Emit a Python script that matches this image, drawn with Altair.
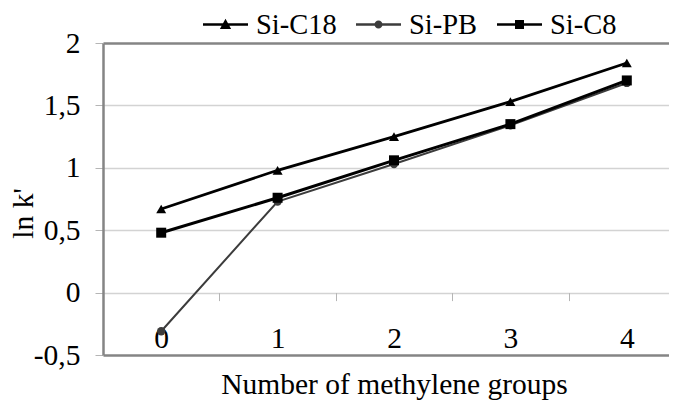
import altair as alt
import pandas as pd

# ---- data ----
x_vals = [0, 1, 2, 3, 4]
series_names = ["Si-C18", "Si-PB", "Si-C8"]
c18_vals = [0.67, 0.98, 1.25, 1.53, 1.84]
pb_vals = [-0.31, 0.73, 1.03, 1.34, 1.68]
c8_vals = [0.48, 0.76, 1.06, 1.35, 1.70]
y_ticks = [-0.5, 0, 0.5, 1, 1.5, 2]

rows = []
for name, vals in zip(series_names, [c18_vals, pb_vals, c8_vals]):
    for xv, v in zip(x_vals, vals):
        rows.append({"n": xv, "lnk": v, "series": name})
df = pd.DataFrame(rows)

FONT = "Liberation Serif"
W, H = 566, 312
RANGE_W = 582

x_enc = alt.X(
    "n:O",
    bandPosition=0.5,
    scale=alt.Scale(type="band", paddingInner=0, paddingOuter=0, range=[0, RANGE_W]),
    axis=alt.Axis(
        title="Number of methylene groups",
        tickBand="extent",
        domain=False,
        grid=False,
        ticks=True,
        tickColor="#b5b5b5",
        tickSize=8,
        tickWidth=1,
        offset=-62.4,
        labelAngle=0,
        labelFont=FONT,
        labelFontSize=29.5,
        labelColor="black",
        labelBaseline="alphabetic",
        labelPadding=47,
        titleFont=FONT,
        titleFontSize=29.5,
        titleFontWeight="normal",
        titleColor="black",
        titleX=291,
        titleY=101,
        titleBaseline="alphabetic",
        titleAlign="center",
    ),
)

y_enc = alt.Y(
    "lnk:Q",
    scale=alt.Scale(domain=[-0.5, 2], nice=False, zero=False),
    axis=alt.Axis(
        values=y_ticks,
        labelExpr="replace(toString(datum.value), '.', ',')",
        title="ln k'",
        grid=True,
        gridColor={"condition": {"test": "datum.value === 2 || datum.value === -0.5", "value": "#858585"}, "value": "#d3d3d3"},
        gridWidth={"condition": {"test": "datum.value === 2 || datum.value === -0.5", "value": 2.5}, "value": 1.5},
        domainColor="#858585",
        domainWidth=2.5,
        tickColor="#b5b5b5",
        tickSize=8,
        tickWidth=1,
        labelFont=FONT,
        labelFontSize=29.5,
        labelColor="black",
        labelPadding=15,
        titleFont=FONT,
        titleFontSize=29.5,
        titleFontWeight="normal",
        titleColor="black",
        titleAngle=270,
        titleX=-71,
        titleY=170,
        titleBaseline="alphabetic",
        titleAlign="center",
    ),
)


def series_layer(name, color, width, shape, size):
    base = alt.Chart(df).transform_filter(alt.datum.series == name)
    line = base.mark_line(color=color, strokeWidth=width).encode(x=x_enc, y=y_enc)
    pts = base.mark_point(filled=True, shape=shape, size=size, color=color, opacity=1).encode(x=x_enc, y=y_enc)
    return [line, pts]


line_path = "M-1,-0.06L1,-0.06L1,0.06L-1,0.06Z"
legend_paths = [
    line_path + "M0,-0.26L0.25,0.2L-0.25,0.2Z",
    line_path + "M0.18,0A0.18,0.18,0,1,1,-0.18,0A0.18,0.18,0,1,1,0.18,0Z",
    line_path + "M-0.2,-0.2L0.2,-0.2L0.2,0.2L-0.2,0.2Z",
]
legend_colors = ["#000000", "#3c3c3c", "#000000"]

leg = alt.Legend(
    title=None,
    orient="none",
    legendX=100,
    legendY=-41,
    direction="horizontal",
    symbolSize=2025,
    symbolStrokeWidth=0,
    symbolOpacity=1,
    labelFont=FONT,
    labelFontSize=28.5,
    labelColor="black",
    labelOffset=8,
    columnPadding=19,
)

legend_layer = alt.Chart(df).mark_point(filled=True, opacity=0).encode(
    x=x_enc,
    y=y_enc,
    shape=alt.Shape("series:N", scale=alt.Scale(domain=series_names, range=legend_paths), legend=leg),
    color=alt.Color("series:N", scale=alt.Scale(domain=series_names, range=legend_colors), legend=leg),
)

layers = []
layers += series_layer("Si-C18", "#000000", 2.8, "triangle-up", 100)
layers += series_layer("Si-PB", "#3c3c3c", 2, "circle", 70)
layers += series_layer("Si-C8", "#000000", 3, "square", 100)
layers.append(legend_layer)

chart = alt.layer(*layers).properties(
    width=W,
    height=H,
    autosize=alt.AutoSizeParams(type="none"),
    padding={"left": 95, "top": 35, "right": 0, "bottom": 46},
    background="white",
).configure_view(stroke=None)

chart.save("out.html", embed_options={"renderer": "svg", "actions": False})
